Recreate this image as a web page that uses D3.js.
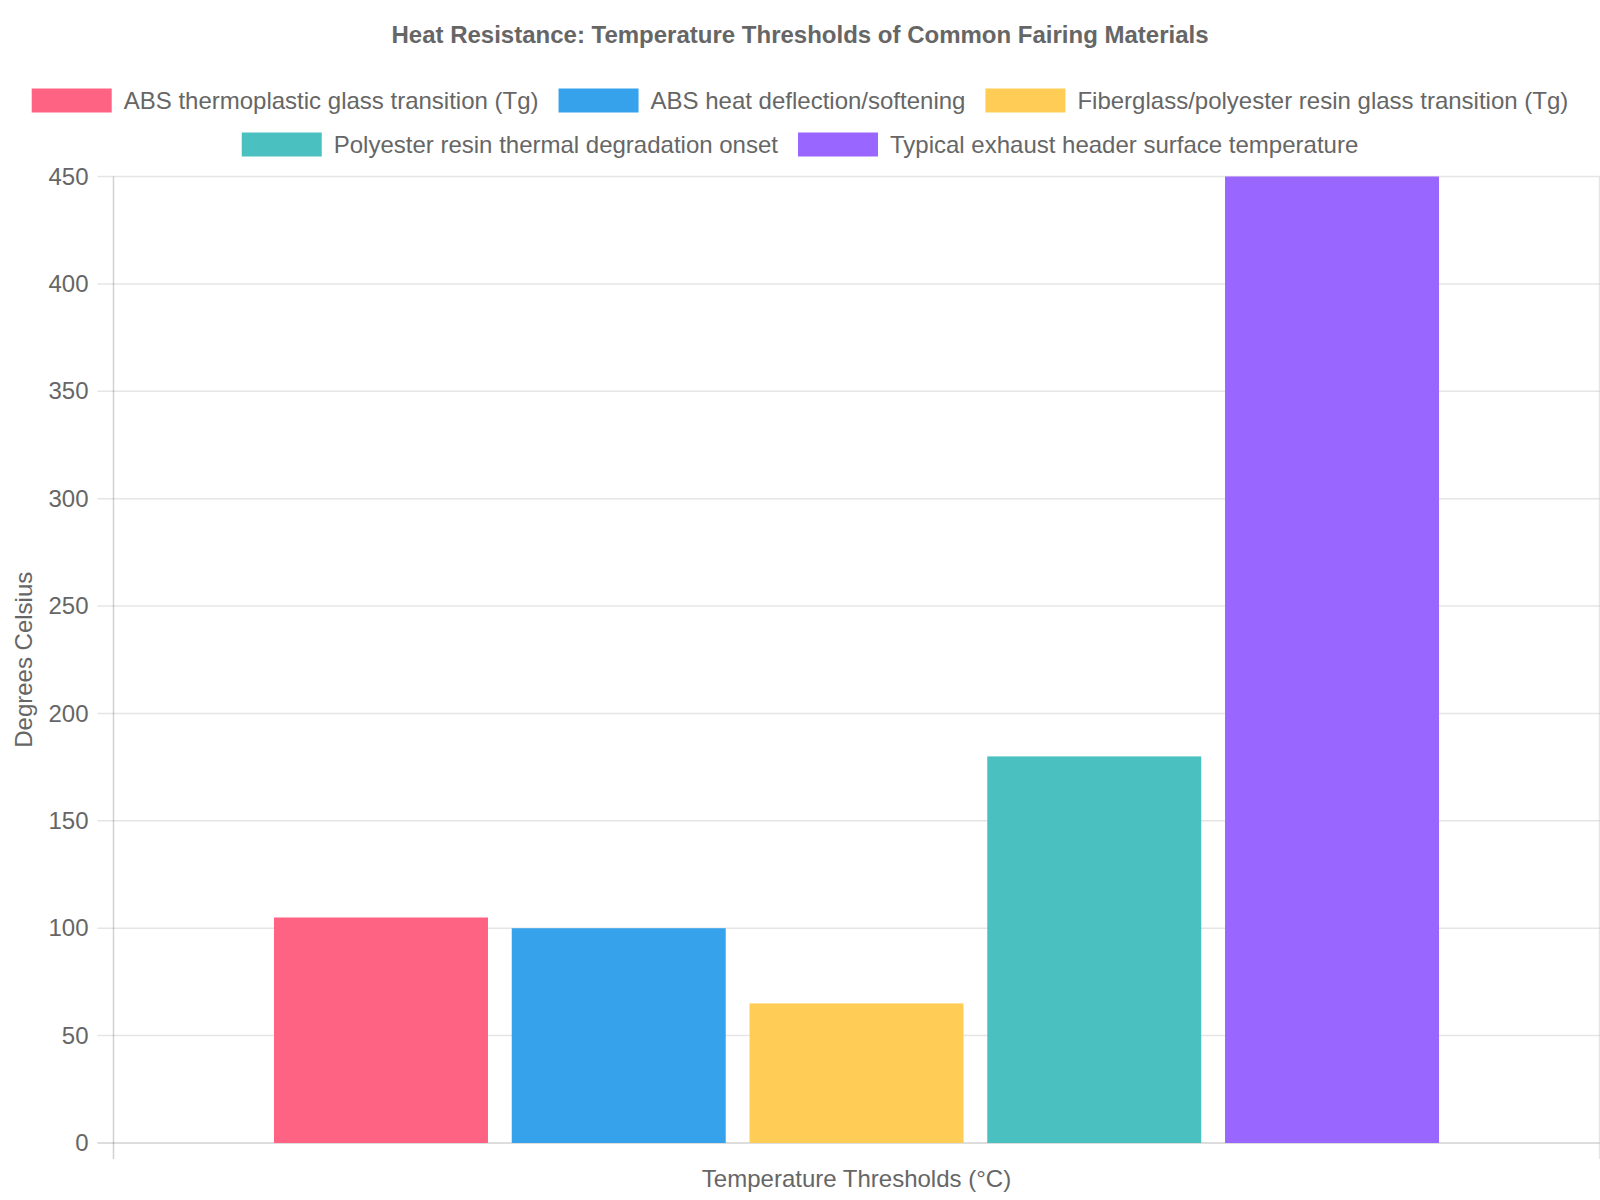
<!DOCTYPE html>
<html>
<head>
<meta charset="utf-8">
<script src="https://cdn.jsdelivr.net/npm/d3@7"></script>
<style>
  html, body { margin: 0; padding: 0; background: #fff; }
  svg { display: block; }
  text { font-family: "Liberation Sans", Arial, Helvetica, sans-serif; fill: #666; }
</style>
</head>
<body>
<svg id="chart" width="1600" height="1200"></svg>
<script>
// ---- data ----
const chartTitle = "Heat Resistance: Temperature Thresholds of Common Fairing Materials";
const categories = ["Temperature Thresholds (°C)"];
const seriesNames = [
  "ABS thermoplastic glass transition (Tg)",
  "ABS heat deflection/softening",
  "Fiberglass/polyester resin glass transition (Tg)",
  "Polyester resin thermal degradation onset",
  "Typical exhaust header surface temperature"
];
const seriesValues = [105, 100, 65, 180, 450];
const seriesColors = ["#FF6384", "#36A2EB", "#FFCD56", "#4BC0C0", "#9966FF"];
const yTicks = [0, 50, 100, 150, 200, 250, 300, 350, 400, 450];
const yTitle = "Degrees Celsius";
const xTitle = "Temperature Thresholds (°C)";

// ---- layout ----
const W = 1600, H = 1200;
const plot = { left: 113.5, right: 1599.5, top: 176.5, bottom: 1143 };
const fontSize = 24;
const gridColor = "rgba(0,0,0,0.1)";
const axisColor = "rgba(0,0,0,0.18)";

const svg = d3.select("#chart");

// title
svg.append("text")
  .attr("x", W / 2).attr("y", 34)
  .attr("text-anchor", "middle").attr("dominant-baseline", "central")
  .style("font-size", fontSize + "px").style("font-weight", "bold")
  .text(chartTitle);

// legend
const boxW = 80, boxH = 24, gapText = fontSize / 2, itemPad = 20;
const measure = svg.append("text").style("font-size", fontSize + "px");
const items = seriesNames.map((n, i) => {
  measure.text(n);
  const tw = measure.node().getComputedTextLength();
  return { name: n, color: seriesColors[i], w: boxW + gapText + tw };
});
measure.remove();
const rows = [];
let cur = [], curW = 0;
items.forEach(it => {
  const add = (cur.length ? itemPad : 0) + it.w;
  if (cur.length && curW + add > W - 20) { rows.push(cur); cur = []; curW = 0; }
  curW += (cur.length ? itemPad : 0) + it.w;
  cur.push(it);
});
if (cur.length) rows.push(cur);
const rowY = [100.5, 144.5];
const legend = svg.append("g");
rows.forEach((row, ri) => {
  const total = d3.sum(row, d => d.w) + itemPad * (row.length - 1);
  let x = W / 2 - total / 2;
  const cy = rowY[ri] !== undefined ? rowY[ri] : 100.5 + ri * 44;
  row.forEach(it => {
    legend.append("rect")
      .attr("x", x).attr("y", cy - boxH / 2)
      .attr("width", boxW).attr("height", boxH)
      .attr("fill", it.color);
    legend.append("text")
      .attr("x", x + boxW + gapText).attr("y", cy)
      .attr("dominant-baseline", "central")
      .style("font-size", fontSize + "px")
      .text(it.name);
    x += it.w + itemPad;
  });
});

// scales
const y = d3.scaleLinear().domain([0, 450]).range([plot.bottom, plot.top]);
const xCat = d3.scaleBand().domain(categories).range([plot.left, plot.right]).padding(0);
const catW = xCat.bandwidth();
const xSeries = d3.scaleBand().domain(seriesNames)
  .range([xCat(categories[0]) + catW * 0.1, xCat(categories[0]) + catW * 0.9])
  .paddingInner(0.1).paddingOuter(0.05);

// gridlines (horizontal)
const grid = svg.append("g");
yTicks.forEach(t => {
  grid.append("line")
    .attr("x1", plot.left - 16).attr("x2", plot.right)
    .attr("y1", y(t)).attr("y2", y(t))
    .attr("stroke", t === 0 ? axisColor : gridColor)
    .attr("stroke-width", 1.5);
});
// vertical category boundaries
[plot.left, plot.right].forEach(xx => {
  grid.append("line")
    .attr("x1", xx).attr("x2", xx)
    .attr("y1", plot.top).attr("y2", plot.bottom + 16)
    .attr("stroke", xx === plot.left ? axisColor : gridColor)
    .attr("stroke-width", 1.5);
});

// y axis labels via d3 axis
const yAxis = d3.axisLeft(y).tickValues(yTicks).tickSize(0).tickPadding(0);
const gy = svg.append("g").attr("transform", `translate(${plot.left - 25},0)`).call(yAxis);
gy.select(".domain").remove();
gy.selectAll("text")
  .style("font-size", fontSize + "px")
  .style("font-family", '"Liberation Sans", Arial, sans-serif')
  .attr("fill", "#666");

// bars
svg.append("g").selectAll("rect")
  .data(seriesNames.map((n, i) => ({ name: n, value: seriesValues[i], color: seriesColors[i] })))
  .join("rect")
  .attr("x", d => xSeries(d.name))
  .attr("width", xSeries.bandwidth())
  .attr("y", d => y(d.value))
  .attr("height", d => y(0) - y(d.value))
  .attr("fill", d => d.color);

// axis titles
svg.append("text")
  .attr("transform", `translate(23,${(plot.top + plot.bottom) / 2}) rotate(-90)`)
  .attr("text-anchor", "middle").attr("dominant-baseline", "central")
  .style("font-size", fontSize + "px")
  .text(yTitle);
svg.append("text")
  .attr("x", (plot.left + plot.right) / 2).attr("y", 1187)
  .attr("text-anchor", "middle")
  .style("font-size", fontSize + "px")
  .text(xTitle);
</script>
</body>
</html>
